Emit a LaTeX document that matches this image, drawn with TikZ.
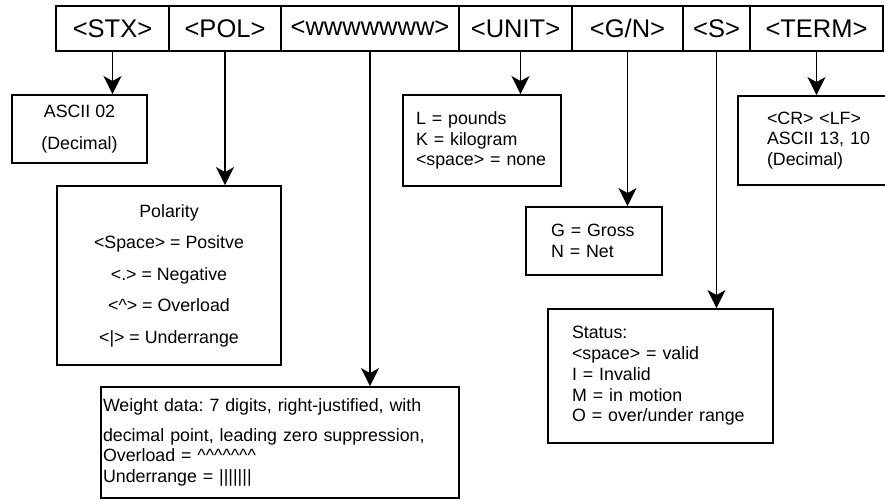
\documentclass[tikz,border=0pt]{standalone}
\usepackage{fontspec}
\setmainfont{Liberation Sans}
\usetikzlibrary{arrows.meta,positioning}
\frenchspacing

\begin{document}
\begin{tikzpicture}[
  x=1pt, y=-1pt, line width=1.9pt,
  >={Stealth[length=18pt,width=18pt,inset=5pt]},
  field/.style={draw, inner sep=0pt, minimum height=45pt, font=\fontsize{25.5}{30}\selectfont},
  box/.style={draw, inner sep=0pt, font=\fontsize{17.8}{20.8}\selectfont},
  spaced/.style={font=\fontsize{17.8}{31.5}\selectfont, align=center},
  lbox/.style={box, align=left}
]
\clip (0,0) rectangle (885,500);

\node[field, minimum width=113pt] (stx) at (112.5,28.5) {<STX>};
\node[field, minimum width=112pt] (pol) at (225,28.5) {<POL>};
\node[field, minimum width=178pt] (wdata) at (370,28.5) {<wwwwwww>};
\node[field, minimum width=113pt] (unit) at (515.5,28.5) {<UNIT>};
\node[field, minimum width=111pt] (gn) at (627.5,28.5) {<G/N>};
\node[field, minimum width=67pt] (st) at (716.5,28.5) {<S>};
\node[field, minimum width=133pt] (term) at (816.5,28.5) {<TERM>};

\node[box, spaced, minimum width=135pt, minimum height=68pt] (ascbox) at (79.5,129) {ASCII 02\\(Decimal)};
\node[box, spaced, minimum width=224pt, minimum height=179pt] (polbox) at (169,275.5)
  {Polarity\\<Space> = Positve\\<.> = Negative\\<\textasciicircum> = Overload\\<|> = Underrange};
\node[lbox, minimum width=358pt, minimum height=111pt, text width=354pt] (wbox) at (280,442.5)
  {Weight data: 7 digits, right-justified, with\\[9pt]decimal point, leading zero suppression,\\Overload = \textasciicircum\textasciicircum\textasciicircum\textasciicircum\textasciicircum\textasciicircum\textasciicircum\\Underrange = |||||||};
\node[lbox, minimum width=158pt, minimum height=91pt, text width=132pt] (unitbox) at (482,140.5)
  {L = pounds\\K = kilogram\\<space> = none};
\node[lbox, minimum width=136pt, minimum height=68pt, text width=86pt] (gnbox) at (594,241)
  {G = Gross\\N = Net};
\node[lbox, minimum width=200pt, minimum height=89pt, text width=142pt] (termbox) at (838,140.5)
  {<CR> <LF>\\ASCII 13, 10\\(Decimal)};
\node[lbox, minimum width=225pt, minimum height=134pt, text width=177pt] (statbox) at (660.5,376)
  {Status:\\<space> = valid\\I = Invalid\\M = in motion\\O = over/under range};

\draw[->] (stx.south) -- (stx.south |- ascbox.north);
\draw[->] (pol.south) -- (pol.south |- polbox.north);
\draw[->] (wdata.south) -- (wdata.south |- wbox.north);
\draw[->] ([xshift=5pt]unit.south) -- ([xshift=5pt]unit.south |- unitbox.north);
\draw[->] (gn.south) -- (gn.south |- gnbox.north);
\draw[->] (st.south) -- (st.south |- statbox.north);
\draw[->] (term.south) -- (term.south |- termbox.north);
\end{tikzpicture}
\end{document}
